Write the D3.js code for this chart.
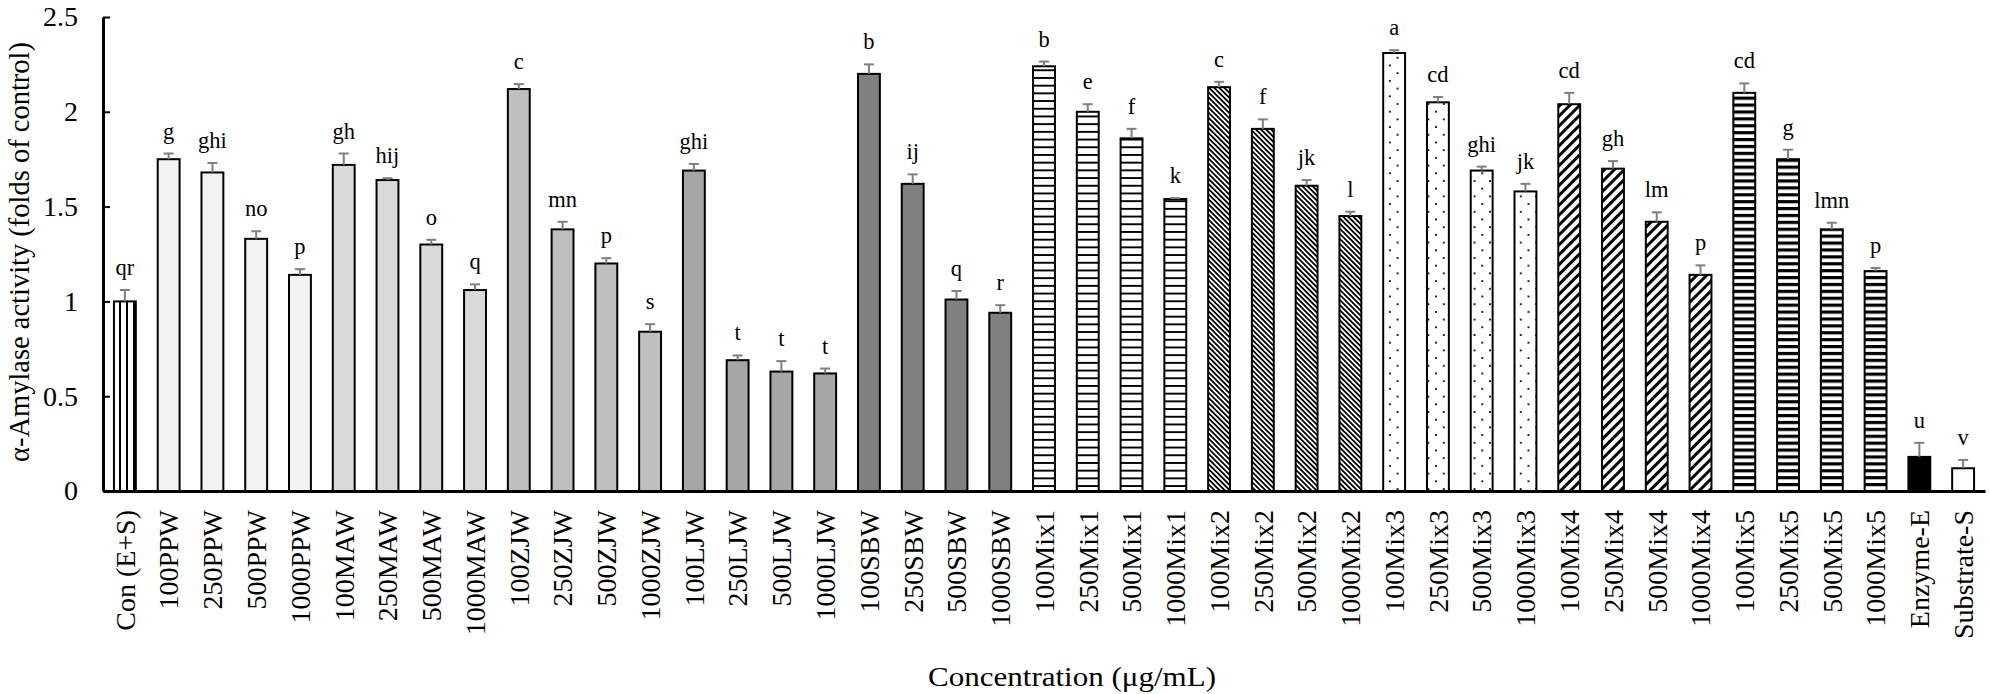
<!DOCTYPE html>
<html>
<head>
<meta charset="utf-8">
<script src="https://cdn.jsdelivr.net/npm/d3@7/dist/d3.min.js"></script>
<style>
  html, body { margin: 0; padding: 0; background: #fff; }
  svg { display: block; }
  text { font-family: "Liberation Serif", "Times New Roman", serif; fill: #000; }
</style>
</head>
<body>
<svg id="chart" width="1990" height="694"></svg>
<script>
const categories = ["Con (E+S)","100PPW","250PPW","500PPW","1000PPW","100MAW","250MAW","500MAW","1000MAW","100ZJW","250ZJW","500ZJW","1000ZJW","100LJW","250LJW","500LJW","1000LJW","100SBW","250SBW","500SBW","1000SBW","100Mix1","250Mix1","500Mix1","1000Mix1","100Mix2","250Mix2","500Mix2","1000Mix2","100Mix3","250Mix3","500Mix3","1000Mix3","100Mix4","250Mix4","500Mix4","1000Mix4","100Mix5","250Mix5","500Mix5","1000Mix5","Enzyme-E","Substrate-S"];
const groups = ["Con","PPW","PPW","PPW","PPW","MAW","MAW","MAW","MAW","ZJW","ZJW","ZJW","ZJW","LJW","LJW","LJW","LJW","SBW","SBW","SBW","SBW","Mix1","Mix1","Mix1","Mix1","Mix2","Mix2","Mix2","Mix2","Mix3","Mix3","Mix3","Mix3","Mix4","Mix4","Mix4","Mix4","Mix5","Mix5","Mix5","Mix5","E","S"];
const means = [1.00,1.75,1.68,1.33,1.14,1.72,1.64,1.30,1.06,2.12,1.38,1.20,0.84,1.69,0.69,0.63,0.62,2.20,1.62,1.01,0.94,2.24,2.00,1.86,1.54,2.13,1.91,1.61,1.45,2.31,2.05,1.69,1.58,2.04,1.70,1.42,1.14,2.10,1.75,1.38,1.16,0.18,0.12];
const errors = [0.06,0.03,0.05,0.04,0.03,0.06,0.01,0.025,0.03,0.026,0.04,0.028,0.04,0.035,0.025,0.055,0.026,0.05,0.05,0.045,0.04,0.025,0.04,0.05,0.005,0.028,0.05,0.03,0.023,0.015,0.028,0.021,0.04,0.06,0.04,0.05,0.05,0.05,0.05,0.035,0.016,0.074,0.044];
const letters = ["qr","g","ghi","no","p","gh","hij","o","q","c","mn","p","s","ghi","t","t","t","b","ij","q","r","b","e","f","k","c","f","jk","l","a","cd","ghi","jk","cd","gh","lm","p","cd","g","lmn","p","u","v"];
const yTicks = [0, 0.5, 1, 1.5, 2, 2.5];
const yTitle = "α-Amylase activity (folds of control)";
const xTitle = "Concentration (μg/mL)";

const svg = d3.select("#chart");
const plotLeft = 103, plotRight = 1985, plotTop = 17, plotBottom = 491;

const defs = svg.append("defs");
function makePattern(id, w, h, drawFn, transform) {
  const p = defs.append("pattern").attr("id", id).attr("patternUnits", "userSpaceOnUse")
    .attr("width", w).attr("height", h);
  if (transform) p.attr("patternTransform", transform);
  p.append("rect").attr("width", w).attr("height", h).attr("fill", "#fff");
  drawFn(p);
}
makePattern("pCon", 7, 10, p => p.append("rect").attr("x", 0).attr("width", 2).attr("height", 10).attr("fill", "#000"));
makePattern("pMix1", 10, 7.7, p => p.append("rect").attr("y", 0).attr("width", 10).attr("height", 1.9).attr("fill", "#000"));
makePattern("pMix5", 10, 6.9, p => p.append("rect").attr("y", 0).attr("width", 10).attr("height", 3.2).attr("fill", "#000"));
makePattern("pMix2", 3.6, 10, p => p.append("rect").attr("x", 0).attr("width", 1.8).attr("height", 10).attr("fill", "#000"), "rotate(-45)");
makePattern("pMix4", 7, 10, p => p.append("rect").attr("x", 0).attr("width", 3).attr("height", 10).attr("fill", "#000"), "rotate(45)");
makePattern("pMix3", 15.4, 15.4, p => {
  p.append("rect").attr("x", 3).attr("y", 3).attr("width", 1.8).attr("height", 1.8).attr("fill", "#000");
  p.append("rect").attr("x", 10.7).attr("y", 10.7).attr("width", 1.8).attr("height", 1.8).attr("fill", "#000");
});

const fillMap = {
  Con: "url(#pCon)", PPW: "#f2f2f2", MAW: "#d9d9d9", ZJW: "#bfbfbf", LJW: "#a6a6a6", SBW: "#808080",
  Mix1: "url(#pMix1)", Mix2: "url(#pMix2)", Mix3: "url(#pMix3)", Mix4: "url(#pMix4)", Mix5: "url(#pMix5)",
  E: "#000", S: "#fff"
};

const x = d3.scaleBand().domain(categories).range([plotLeft, plotRight]).paddingInner(0.5).paddingOuter(0.25);
const y = d3.scaleLinear().domain([0, 2.5]).range([plotBottom, plotTop]);

const data = categories.map((c, i) => ({ c, g: groups[i], m: means[i], e: errors[i], l: letters[i] }));
const cx = d => x(d.c) + x.bandwidth() / 2;

svg.append("g").selectAll("rect").data(data).join("rect")
  .attr("x", d => x(d.c))
  .attr("y", d => y(d.m))
  .attr("width", x.bandwidth())
  .attr("height", d => y(0) - y(d.m))
  .attr("fill", d => fillMap[d.g])
  .attr("stroke", "#000")
  .attr("stroke-width", 2);

const eb = svg.append("g").attr("stroke", "#7f7f7f").attr("stroke-width", 2).attr("fill", "none");
eb.selectAll("line.v").data(data).join("line").attr("class", "v")
  .attr("x1", cx).attr("x2", cx)
  .attr("y1", d => y(d.m)).attr("y2", d => y(d.m + d.e));
eb.selectAll("line.h").data(data).join("line").attr("class", "h")
  .attr("x1", d => cx(d) - 5).attr("x2", d => cx(d) + 5)
  .attr("y1", d => y(d.m + d.e)).attr("y2", d => y(d.m + d.e));

svg.append("g").selectAll("text").data(data).join("text")
  .attr("x", cx)
  .attr("y", d => y(d.m + d.e) - 15)
  .attr("text-anchor", "middle")
  .style("font-size", "22.5px")
  .text(d => d.l);

const yAxis = svg.append("g").attr("transform", `translate(${plotLeft},0)`)
  .call(d3.axisLeft(y).tickValues(yTicks).tickFormat(d => String(d)).tickSize(-7).tickSizeOuter(0).tickPadding(25));
yAxis.select(".domain").attr("stroke", "#000").attr("stroke-width", 3);
yAxis.selectAll(".tick line").attr("stroke", "#000").attr("stroke-width", 2);
yAxis.selectAll(".tick text").style("font-size", "28px").style("font-family", '"Liberation Serif", serif').attr("fill", "#000");

const xAxis = svg.append("g").attr("transform", `translate(0,${plotBottom})`)
  .call(d3.axisBottom(x).tickSize(0).tickSizeOuter(0).tickPadding(0));
xAxis.select(".domain").attr("stroke", "#000").attr("stroke-width", 3);
xAxis.selectAll(".tick text")
  .attr("transform", "rotate(-90)")
  .attr("x", -19).attr("y", 0).attr("dy", "0.35em")
  .style("text-anchor", "end")
  .style("font-size", "28px").style("font-family", '"Liberation Serif", serif').attr("fill", "#000");

svg.append("text")
  .attr("transform", `translate(29,252) rotate(-90)`)
  .attr("text-anchor", "middle")
  .style("font-size", "29px")
  .attr("textLength", 420).attr("lengthAdjust", "spacingAndGlyphs")
  .text(yTitle);

svg.append("text")
  .attr("x", 1072).attr("y", 686)
  .attr("text-anchor", "middle")
  .style("font-size", "28px")
  .attr("textLength", 288).attr("lengthAdjust", "spacingAndGlyphs")
  .text(xTitle);
</script>
</body>
</html>
